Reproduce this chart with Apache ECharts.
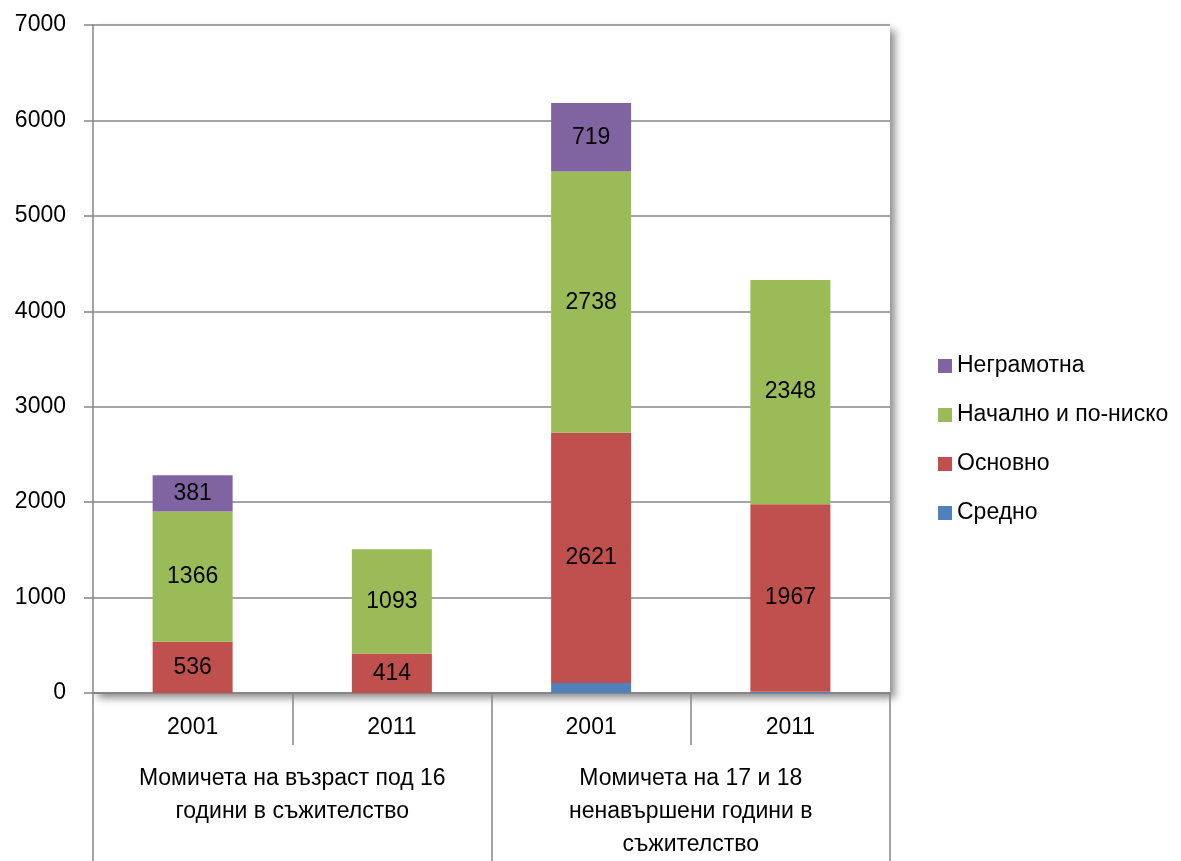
<!DOCTYPE html>
<html>
<head>
<meta charset="utf-8">
<script src="https://cdn.jsdelivr.net/npm/echarts@6/dist/echarts.min.js"></script>
<style>
  html, body { margin: 0; padding: 0; background: #fff; }
  #chart { width: 1181px; height: 861px; }
</style>
</head>
<body>
<div id="chart"></div>
<script>
// data
const years = ['2001', '2011', '2001', '2011'];
const groups = [
  'Момичета на възраст под 16\nгодини в съжителство',
  'Момичета на 17 и 18\nненавършени години в\nсъжителство'
];
const sredno = [0, 0, 105, 12];
const osnovno = [536, 414, 2621, 1967];
const nachalno = [1366, 1093, 2738, 2348];
const negramotna = [381, 0, 719, 0];
const yTicks = { min: 0, max: 7000, interval: 1000 };

const font = 'Liberation Sans';
const fs = 23;
const axisGray = '#868686';

const labelInside = {
  show: true,
  position: 'inside',
  color: '#000',
  fontFamily: font,
  fontSize: fs,
  formatter: p => (p.value ? String(p.value) : '')
};

function bar (name, data, color, label) {
  return {
    name: name,
    type: 'bar',
    stack: 'total',
    barWidth: 80,
    xAxisIndex: 0,
    data: data,
    itemStyle: { color: color },
    label: label ? labelInside : { show: false }
  };
}

const myChart = echarts.init(document.getElementById('chart'));
myChart.setOption({
  animation: false,
  backgroundColor: '#fff',
  textStyle: { fontFamily: font },
  grid: {
    left: 93,
    right: 291,
    top: 25,
    bottom: 168,
    show: true,
    backgroundColor: '#fff',
    borderWidth: 0,
    shadowColor: 'rgba(0,0,0,0.45)',
    shadowBlur: 8,
    shadowOffsetX: 5,
    shadowOffsetY: 5
  },
  legend: {
    orient: 'vertical',
    left: 933,
    top: 349,
    itemWidth: 14,
    itemHeight: 14,
    itemGap: 25,
    icon: 'rect',
    data: ['Неграмотна', 'Начално и по-ниско', 'Основно', 'Средно'],
    textStyle: { color: '#000', fontSize: fs, fontFamily: font, lineHeight: 24 }
  },
  xAxis: [
    {
      type: 'category',
      data: years,
      position: 'bottom',
      axisLine: { show: true, lineStyle: { color: axisGray, width: 2 } },
      axisTick: { show: true, interval: 0, length: 52, lineStyle: { color: axisGray, width: 1.5 } },
      axisLabel: { color: '#000', fontSize: fs, fontFamily: font, margin: 23, interval: 0 }
    },
    {
      type: 'category',
      data: groups,
      position: 'bottom',
      axisLine: { show: false },
      axisTick: { show: true, interval: 0, length: 168, lineStyle: { color: axisGray, width: 1.5 } },
      axisLabel: { color: '#000', fontSize: fs, fontFamily: font, margin: 69, lineHeight: 33, interval: 0, verticalAlign: 'top' }
    }
  ],
  yAxis: {
    type: 'value',
    min: yTicks.min,
    max: yTicks.max,
    interval: yTicks.interval,
    axisLine: { show: true, lineStyle: { color: axisGray, width: 1.5 } },
    axisTick: { show: true, length: 9, lineStyle: { color: axisGray, width: 1.5 } },
    axisLabel: { color: '#000', fontSize: fs, fontFamily: font, margin: 27, formatter: v => String(v) },
    splitLine: { show: true, lineStyle: { color: axisGray, width: 1.5 } }
  },
  series: [
    bar('Средно', sredno, '#4F81BD', false),
    bar('Основно', osnovno, '#C0504D', true),
    bar('Начално и по-ниско', nachalno, '#9BBB59', true),
    bar('Неграмотна', negramotna, '#8064A2', true)
  ]
});
</script>
</body>
</html>
